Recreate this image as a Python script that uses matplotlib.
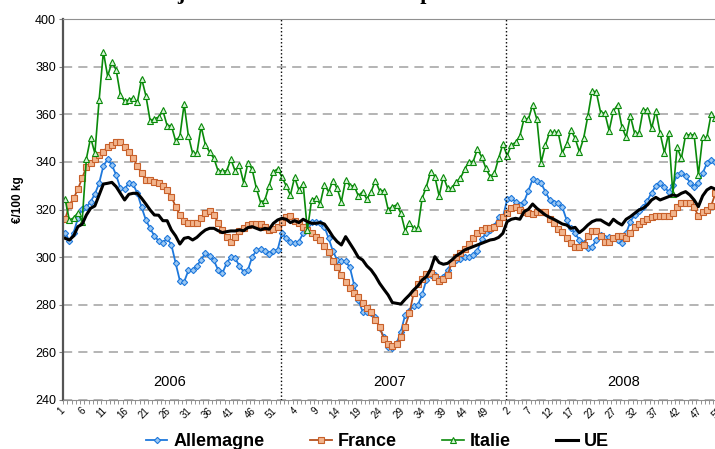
import numpy as np
import matplotlib.pyplot as plt
from matplotlib.transforms import ScaledTranslation

plt.rcParams['font.family'] = ['Liberation Sans', 'DejaVu Sans']

# weekly prices, euro / 100 kg (2006 wk1 .. 2008 wk52)
allemagne = [
    # 2006
    310.3, 306.8, 310.3, 316.3, 320.2, 320.9, 323.3, 326.5, 331.0, 338.3, 341.1, 338.7, 334.5,
    328.9, 328.5, 331.3, 330.6, 326.8, 320.9, 315.6, 312.1, 308.9, 306.8, 306.1, 307.9, 305.2,
    297.5, 290.1, 289.6, 294.4, 294.6, 296.3, 298.9, 301.7, 300.3, 298.6, 294.6, 293.2, 297.5,
    300.0, 299.6, 296.3, 293.9, 294.6, 300.0, 302.8, 303.5, 302.7, 301.4, 302.7, 303.1, 310.1,
    # 2007
    307.9, 306.5, 305.8, 306.5, 310.0, 313.5, 314.9, 314.9, 314.5, 312.8, 307.9, 302.6, 298.8,
    298.5, 298.2, 295.7, 288.3, 282.0, 277.1, 277.0, 276.7, 275.0, 270.1, 266.6, 262.4, 261.7,
    263.8, 268.7, 275.7, 277.4, 279.5, 279.9, 284.4, 290.4, 292.5, 292.5, 290.7, 291.8, 294.6,
    298.1, 298.8, 299.1, 299.9, 300.2, 300.9, 302.7, 307.5, 310.0, 311.4, 313.1, 316.7, 316.7,
    # 2008
    324.2, 324.7, 323.3, 321.9, 323.3, 327.9, 332.7, 332.1, 331.0, 327.5, 324.0, 322.9, 322.9,
    320.9, 315.6, 312.1, 310.0, 307.2, 305.8, 303.7, 304.4, 307.2, 309.3, 307.9, 308.3, 307.9,
    307.2, 306.1, 310.0, 314.9, 317.7, 319.5, 320.9, 323.7, 327.1, 329.9, 331.0, 329.3, 327.5,
    330.3, 334.5, 335.2, 334.1, 331.3, 329.6, 331.3, 335.2, 339.4, 340.8, 340.1, 340.5, 341.0,
]

france = [
    # 2006
    315.9, 321.9, 324.7, 328.5, 333.1, 338.0, 339.4, 341.0, 342.9, 344.3, 346.4, 347.2, 348.2,
    348.2, 346.4, 344.3, 341.5, 338.3, 335.2, 332.4, 332.4, 331.7, 331.3, 329.9, 328.2, 325.4,
    321.2, 317.7, 315.3, 314.5, 314.5, 314.5, 316.3, 318.7, 319.4, 317.7, 314.5, 311.4, 308.6,
    306.4, 308.6, 311.0, 312.4, 313.5, 313.9, 313.9, 313.9, 312.5, 311.4, 311.7, 312.8, 314.9,
    # 2007
    316.7, 317.3, 315.3, 314.2, 312.5, 311.4, 310.3, 308.6, 307.2, 304.7, 302.3, 298.5, 295.7,
    292.5, 289.7, 286.9, 284.8, 283.1, 280.9, 278.5, 277.0, 273.6, 270.8, 265.5, 263.5, 262.8,
    263.5, 266.6, 270.8, 276.4, 284.8, 288.7, 290.7, 292.8, 293.2, 291.8, 290.0, 290.7, 292.5,
    297.7, 300.2, 301.9, 303.6, 305.5, 307.9, 310.3, 311.4, 312.1, 312.1, 312.8, 314.2, 317.0,
    # 2008
    318.7, 320.5, 320.9, 319.8, 319.1, 318.4, 318.1, 319.1, 319.1, 319.1, 315.9, 314.2, 311.8,
    310.7, 307.9, 306.1, 304.1, 304.1, 305.1, 308.9, 311.1, 311.1, 308.9, 306.5, 306.5, 307.9,
    308.9, 308.9, 307.9, 310.3, 312.5, 313.8, 315.3, 315.9, 316.7, 317.3, 317.3, 317.3, 317.3,
    318.4, 320.9, 322.9, 322.9, 322.9, 320.9, 317.3, 319.1, 319.8, 321.5, 326.8, 327.5, 328.0,
]

italie = [
    # 2006
    324.3, 315.5, 316.5, 318.6, 314.8, 341.3, 350.2, 343.6, 366.0, 386.2, 376.0, 381.8, 378.7,
    368.2, 365.4, 366.1, 366.8, 365.0, 375.0, 367.8, 357.3, 358.1, 358.8, 361.6, 355.2, 355.2,
    348.8, 350.7, 364.3, 351.0, 343.6, 343.6, 354.9, 347.2, 344.1, 341.5, 336.2, 336.2, 336.2,
    341.1, 336.2, 338.5, 331.3, 339.5, 336.9, 328.9, 322.9, 324.0, 330.0, 335.9, 337.0, 333.8,
    # 2007
    329.9, 326.1, 333.5, 328.2, 330.7, 311.4, 324.0, 324.7, 322.3, 330.3, 327.5, 332.1, 328.9,
    323.3, 332.4, 329.9, 329.9, 325.7, 327.5, 324.3, 327.5, 332.1, 327.9, 327.9, 320.0, 321.2,
    321.9, 318.4, 311.1, 314.5, 312.1, 312.1, 324.7, 329.6, 335.9, 333.8, 325.7, 333.8, 328.9,
    328.9, 331.7, 333.1, 336.9, 340.1, 340.1, 345.3, 342.2, 337.3, 333.8, 335.2, 341.5, 347.5,
    # 2008
    342.6, 347.1, 348.2, 350.9, 358.3, 357.9, 363.9, 357.9, 339.7, 347.1, 352.4, 352.4, 352.4,
    343.9, 347.5, 353.4, 349.9, 344.3, 349.9, 359.3, 369.9, 369.2, 360.7, 360.4, 353.1, 361.4,
    363.9, 354.8, 350.3, 359.3, 352.0, 352.0, 361.8, 361.8, 354.1, 361.5, 352.0, 343.9, 352.0,
    326.5, 346.1, 341.5, 351.3, 351.3, 351.3, 334.5, 350.3, 350.3, 360.1, 358.3, 357.0, 357.0,
]

ue = [
    # 2006
    307.9, 307.2, 308.9, 312.8, 313.8, 317.7, 320.5, 321.5, 326.1, 330.7, 331.0, 331.4, 329.6,
    326.8, 324.0, 326.4, 326.8, 326.8, 324.7, 322.3, 319.8, 317.7, 317.6, 315.3, 315.3, 311.4,
    308.9, 305.5, 307.9, 308.3, 307.2, 308.3, 310.0, 311.4, 312.1, 312.1, 311.1, 310.3, 310.7,
    311.0, 311.0, 311.4, 311.1, 312.4, 312.8, 312.1, 311.4, 312.1, 311.7, 314.2, 315.6, 316.3,
    # 2007
    315.9, 314.5, 315.3, 314.5, 315.9, 314.9, 314.2, 314.2, 314.5, 313.9, 311.4, 308.6, 306.5,
    305.1, 308.6, 305.8, 303.0, 299.9, 298.8, 296.3, 294.6, 292.1, 289.0, 286.5, 284.1, 280.9,
    280.6, 280.3, 282.3, 284.1, 286.2, 287.9, 290.4, 291.8, 294.9, 300.2, 297.7, 297.0, 297.4,
    298.8, 300.5, 301.6, 303.0, 303.7, 304.4, 305.1, 305.8, 306.5, 307.2, 307.5, 308.3, 310.0,
    # 2008
    314.9, 315.9, 316.3, 315.9, 319.1, 320.1, 322.3, 320.5, 319.1, 317.7, 316.7, 315.9, 314.9,
    313.9, 313.5, 312.1, 312.5, 310.3, 311.7, 313.5, 314.9, 315.6, 315.6, 314.5, 313.5, 315.9,
    314.5, 313.5, 315.9, 317.0, 318.4, 319.8, 320.5, 321.9, 324.0, 325.1, 324.0, 324.7, 325.4,
    326.1, 325.7, 326.8, 327.5, 326.1, 324.0, 321.2, 325.7, 328.2, 329.3, 328.5, 328.0, 328.0,
]

years = ['2006', '2007', '2008']
week_labels = [str(w) for y in years for w in range(1, 53)]

x = np.arange(len(ue))

fig = plt.figure(figsize=(7.15, 4.49), dpi=100)
ax = fig.add_axes([63 / 715, 1 - 400 / 449, (726 - 63) / 715, (400 - 19) / 449])

ax.plot(x, allemagne, color='#1E78DC', lw=1.3, marker='D', ms=3.2,
        mfc='#9CC8F2', mec='#1E78DC', mew=0.8, label='Allemagne')
ax.plot(x, france, color='#B5501E', lw=1.3, marker='s', ms=3.8,
        mfc='#F2B48C', mec='#C8602A', mew=0.8, label='France')
ax.plot(x, italie, color='#0A8A0A', lw=1.2, marker='^', ms=4.2,
        mfc='#D8F5D8', mec='#0A8A0A', mew=0.8, label='Italie')
ax.plot(x, ue, color='black', lw=2.2, label='UE')

ax.set_xlim(-0.5, len(ue) - 0.5)
ax.set_ylim(240, 400)
ax.set_yticks(range(240, 401, 20))
ax.set_axisbelow(True)
ax.grid(axis='y', color='#A0A0A0', lw=1.1, ls=(0, (6, 4)))

# year separators
for sep in [50.9, 103.7]:
    ax.axvline(sep, color='black', ls=':', lw=1)

for xpos, yr in zip([24.7, 76.4, 131.3], years):
    ax.text(xpos, 247.7, yr, ha='center', va='center', fontsize=10.5)

# category tick marks; labels every 5 weeks
ax.set_xticks(np.arange(-0.5, len(ue), 1), minor=True)
ax.set_xticks(x[::5])
ax.set_xticklabels(week_labels[::5], rotation=45, ha='right', va='top',
                   rotation_mode='anchor')
ax.tick_params(axis='x', which='major', length=0, labelsize=7, pad=4)
ax.tick_params(axis='x', which='minor', length=3, color='#808080')
ax.tick_params(axis='y', length=3, labelsize=9, color='#808080', pad=2)

# nudge the week labels a few pixels left (after tick_params, which resets transforms)
shift = ScaledTranslation(-6 / 100, 0, fig.dpi_scale_trans)
for lab in ax.get_xticklabels():
    lab.set_transform(lab.get_transform() + shift)

ax.spines['right'].set_visible(False)
ax.spines['top'].set_color('#909090')
ax.spines['bottom'].set_color('#909090')
ax.spines['left'].set_color('#555555')
ax.spines['left'].set_linewidth(1.6)

fig.text(18 / 715, 1 - 200 / 449, '€/100 kg', rotation=90, weight='bold',
         fontsize=8.5, ha='center', va='center')

# title sits mostly above the visible area
fig.text(44 / 715, 1 + 1 / 449, 'Cotations des jeunes bovins U3 en Europe',
         family='Liberation Serif', weight='bold', fontsize=16,
         ha='left', va='baseline')

fig.legend(loc='center', bbox_to_anchor=(0.528, 0.0156), ncol=4, frameon=False,
           prop={'weight': 'bold', 'size': 13}, handlelength=1.2,
           handletextpad=0.35, columnspacing=2.5, borderpad=0)

fig.savefig('out.png', dpi=100)
